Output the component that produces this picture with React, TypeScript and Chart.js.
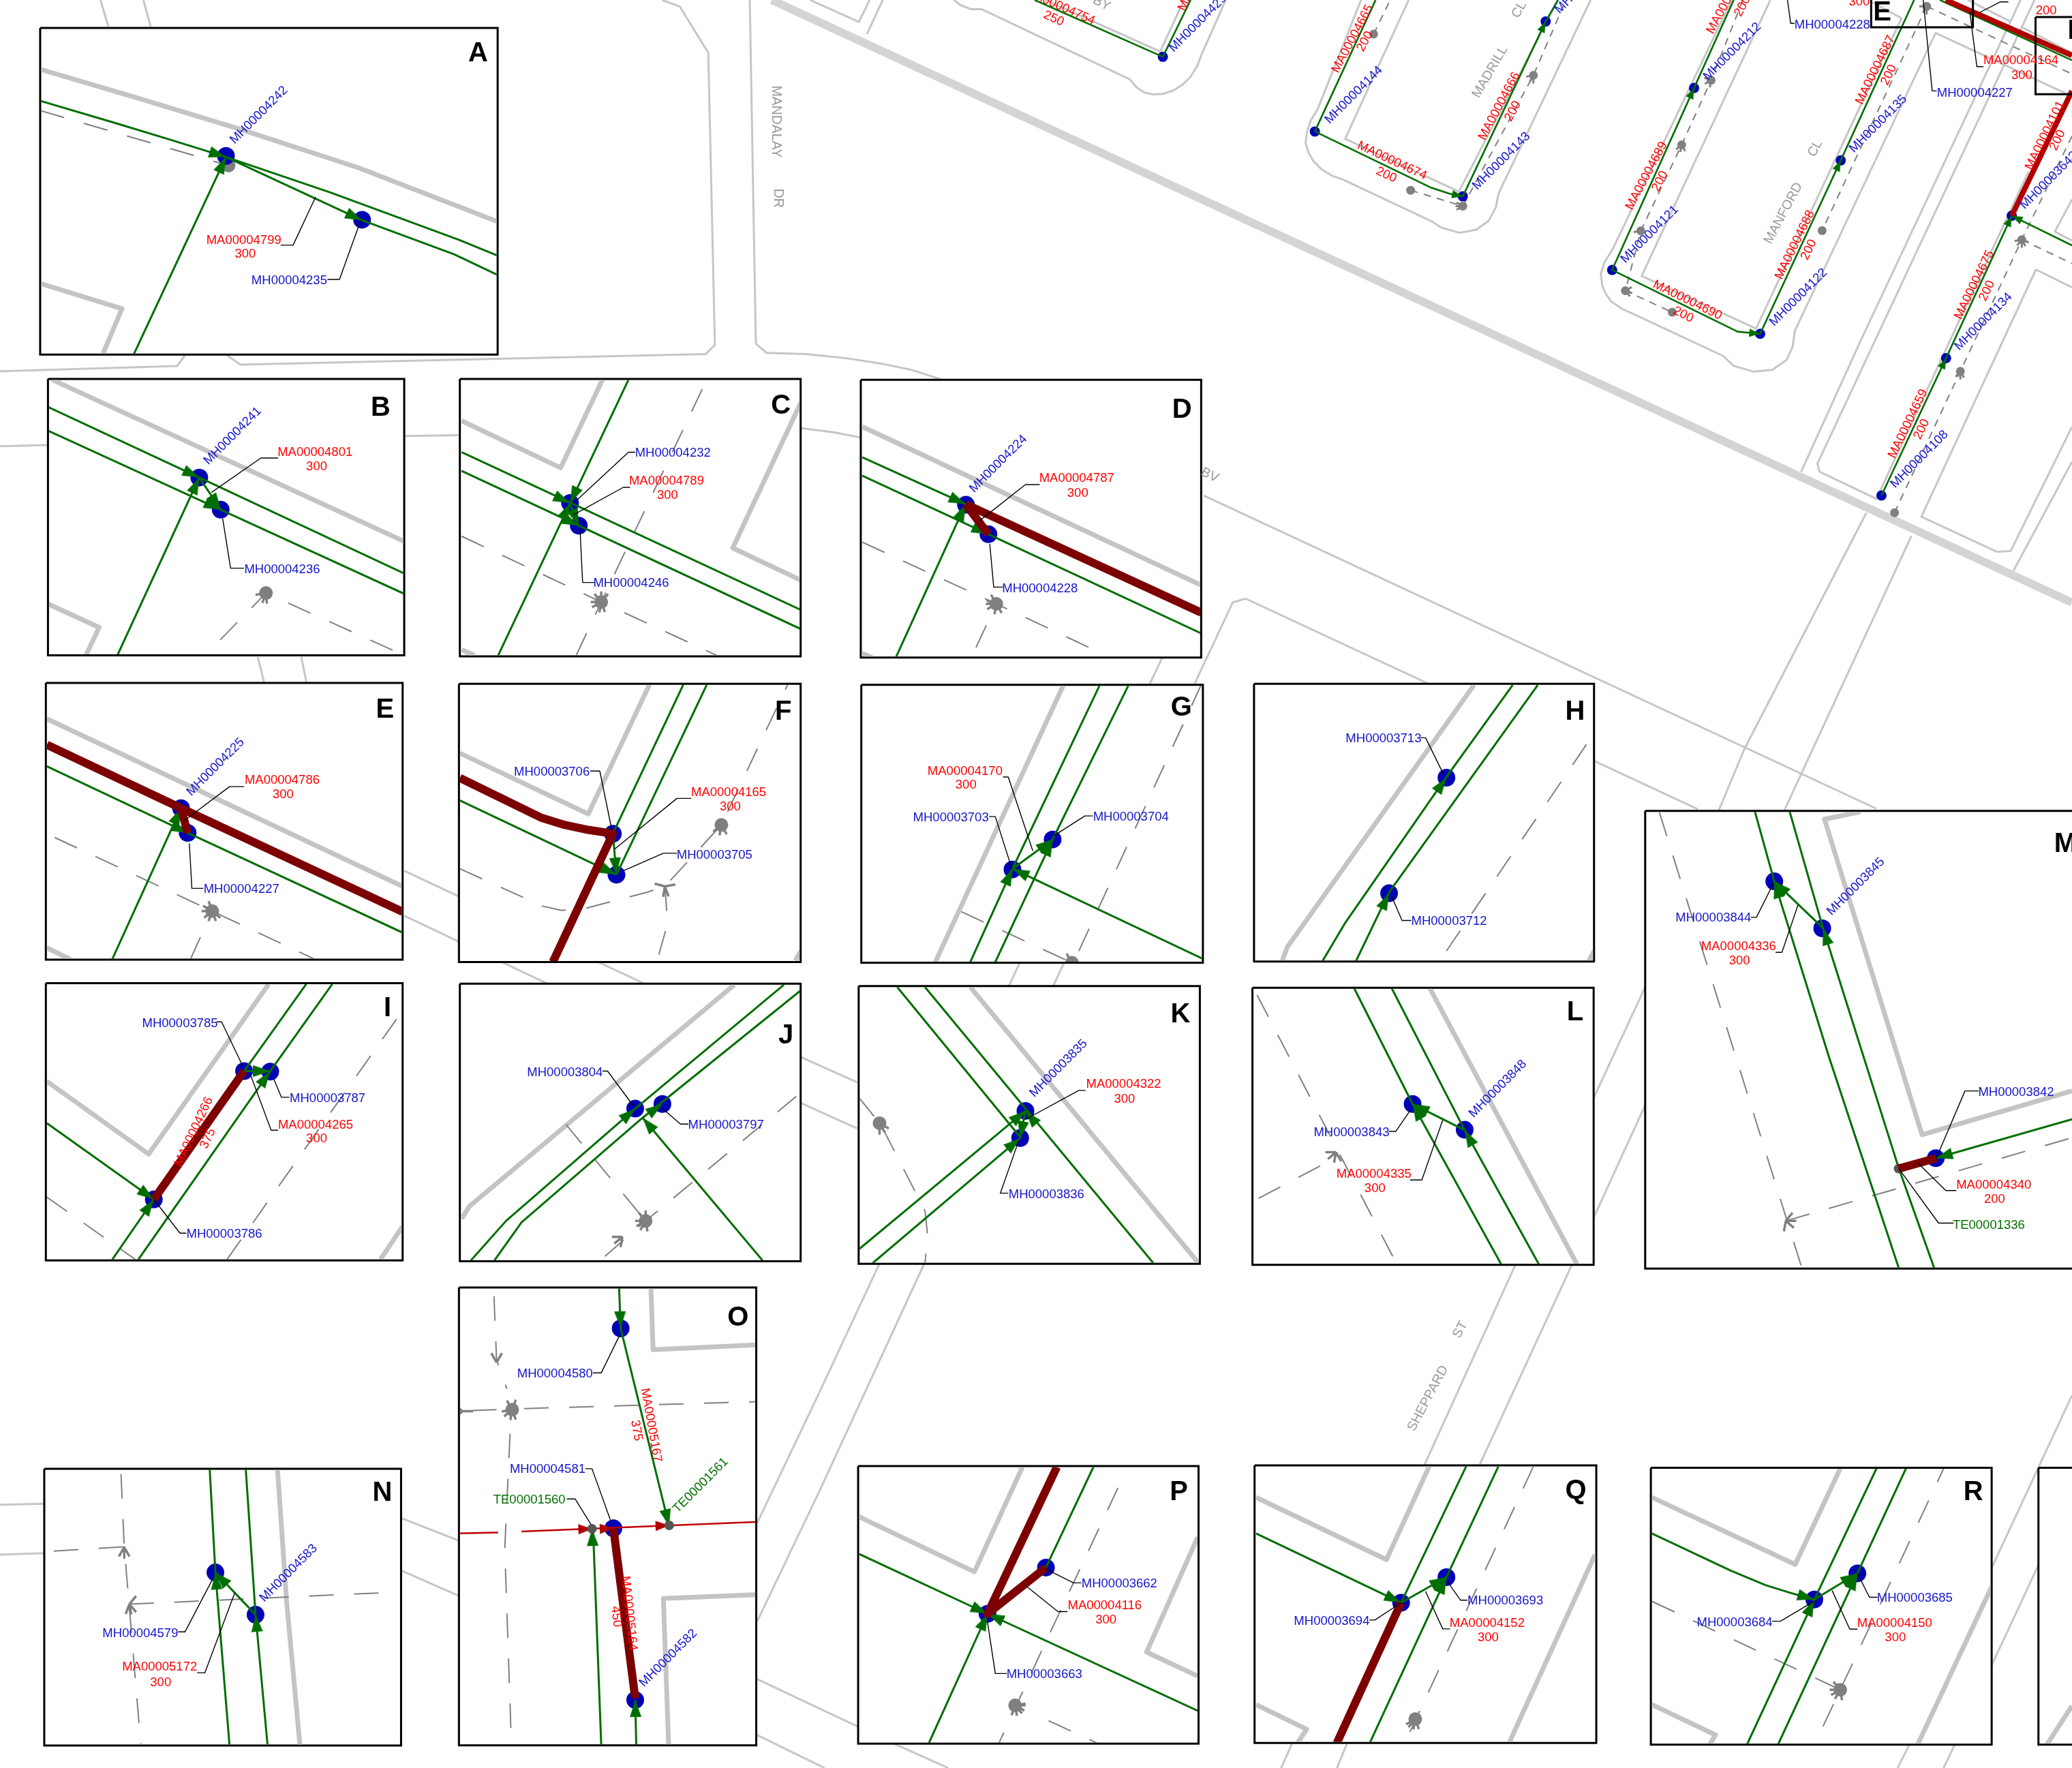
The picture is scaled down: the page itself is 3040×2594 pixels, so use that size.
import React, { useEffect, useRef } from "react";
import { Chart, registerables } from "chart.js";

Chart.register(...registerables);

const CANVAS_W = 3040;
const CANVAS_H = 2594;
const X_MAX = 1568;
const Y_MAX = 1338;

type Lines = number[][];
type Label = [string, number, number, number?];

const band: Lines = [[584, 0, 1568, 456]];

const streets: Lines = [
  [76, 0, 82, 20], [108.5, 0, 114, 20],
  [501, 0, 514.5, 5, 536, 40, 541, 261, 534, 268, 182, 276, 172, 269],
  [0, 281, 134, 277, 140, 269],
  [567.4, 0, 572, 260, 580, 267, 610, 268, 640, 271, 666, 275, 690, 280, 712, 287],
  [0, 337.7, 36, 336.8, 306, 330, 348, 329.4, 606, 324, 630, 327, 651, 331],
  [613, 0, 650, 16.6, 658, 0], [656, 25.8, 668, 0],
  [722, 0, 727, 4, 735, 7, 743, 7, 855, 60, 860, 66, 866, 70, 873, 71.5, 880, 71, 888, 68.5, 895, 64, 901, 58, 906, 50, 909, 42, 927.6, 0],
  [791, 0, 878, 39, 896, 0],
  [1030, 0, 997, 83, 992, 91, 989, 100, 988, 108, 990, 115, 994, 122, 1000, 128, 1008, 133, 1016.5, 136, 1083, 167.3, 1090.8, 172.3, 1104.7, 176.2, 1117.1, 173.8, 1126.4, 167.3, 1132, 157, 1134, 146.6, 1203.7, 0],
  [1066, 0, 1018, 105, 1104, 145, 1179, 0],
  [1310.4, 0, 1220.7, 188, 1214, 199, 1211.4, 207.3, 1212.5, 216, 1215, 222, 1219.2, 228, 1228, 234, 1240.8, 239.8, 1304.2, 269.5, 1311.9, 276.9, 1327.4, 281.3, 1341.3, 279.8, 1352.1, 272.4, 1356.7, 262, 1358.3, 250.2, 1464.8, 25, 1562.8, 70.5, 1600, 88],
  [1339.7, 0, 1242.3, 208.8, 1328.9, 248.7, 1439, 13.8, 1417, 1.7],
  [1529, 0, 1521.5, 16.3, 1408, 258, 1363, 357], [1489, 0, 1521.5, 16.3],
  [1539.6, 0, 1530, 20.6, 1375.3, 351, 1377, 357, 1420, 377.5, 1535, 130], [1530, 20.6, 1568, 40],
  [1568, 217.5, 1540.7, 204, 1454, 391, 1511, 417.5, 1521.6, 417, 1568, 323],
  [1568, 182, 1555, 175.3, 1568, 151],
  [1523.7, 432, 1568, 349.4],
  [1412.4, 388, 1320, 567, 1245, 747, 1206, 831, 1146, 959, 1077.8, 1109, 978, 1319, 969.5, 1338],
  [1446.4, 405.7, 1350, 614, 1244.5, 837.5, 1206, 921.5, 1189.3, 957.6, 1119.5, 1109, 1019.6, 1319, 1011.7, 1338],
  [911, 375, 1420, 612],
  [942.6, 453, 1285, 612.5],
  [942.6, 453, 932.8, 456, 798.6, 742.8, 698, 959.4, 619, 1130.8, 573, 1227],
  [879.5, 497.6, 619, 1056, 573, 1152.5],
  [195, 497, 200, 517], [228, 497, 232, 517],
  [306, 659, 454, 728.6, 606, 800, 648.6, 819],
  [306, 693, 412.5, 743.6, 606, 834.7, 648.6, 854],
  [0, 1138.8, 33.5, 1138], [0, 1176.6, 33.5, 1175.4],
  [304, 1149, 347, 1165.8, 573, 1270.8, 678, 1320.3, 717.7, 1338],
  [304, 1188.7, 347, 1207.6, 573, 1313, 624, 1338],
  [1568, 1056, 1444.7, 1320.8, 1436, 1338],
  [1568, 1130, 1479, 1320.8, 1470.8, 1338],
];

const mapDashes: Lines = [
  [1039.5, 25.8, 1052, 0],
  [1067.5, 144, 1107, 156, 1160.4, 57, 1185, 0],
  [1319, 0, 1294.9, 60.7, 1272.6, 109.6, 1241.7, 174.7, 1230, 220, 1265.5, 236.3],
  [1458, 4.8, 1378.9, 174.5], [1458, 4.8, 1568, 56],
  [1530, 181.4, 1568, 199.4], [1568, 103, 1530, 181.4, 1483.5, 281, 1433.7, 388],
];
const mapGrayNodes: number[][] = [
  [1039.5, 25.8], [1067.5, 144], [1107, 156, 180, 150, 210], [1160.4, 57, 170, 120, 90],
  [1294.9, 60.7, 150, 100, 200], [1272.6, 109.6, 100, 140, 60], [1241.7, 174.7, 170],
  [1230, 220, 20, 50, -30], [1265.5, 236.3], [1378.9, 174.5], [1458, 4.8, 180, 90, 120],
  [1530, 181.4, 130, 170, 60, 90, 20], [1483.5, 281, 90, 130, 60], [1433.7, 388],
];
const mapBlueNodes: number[] = [
  880, 43, 995, 99.5, 1107, 148.6, 1169.7, 16.3, 1220, 204.3, 1282, 66.6, 1332, 252.6,
  1393, 121.4, 1522.4, 163.3, 1472.7, 271, 1423.8, 375,
];
const mapGreen: Lines = [
  [783, 0, 880, 43, 901, 0], [995, 99.5, 1041, 0],
  [995, 99.5, 1083, 142, 1097, 146.6, 1107, 148.6, 1169.7, 16.3, 1179, 0],
  [1312, 0, 1282, 66.6, 1220, 204.3, 1315, 251, 1332, 252.6, 1393, 121.4, 1448.5, 0],
  [1423.8, 375, 1472.7, 271, 1522.4, 163.3, 1568, 185.7], [1468, 0, 1568, 45.6],
];
const mapRed: Lines = [[1522.4, 163.3, 1568, 68.8], [1472.4, 0, 1568, 42]];
const mapArrows: number[][] = [
  [1107, 148.6, 1097, 146.6], [1169.7, 16.3, 1107, 148.6], [1282, 66.6, 1220, 204.3],
  [1332, 252.6, 1315, 251], [1393, 121.4, 1332, 252.6], [1522.4, 163.3, 1478.6, 257.8],
  [1522.4, 163.3, 1568, 185.7], [1472.7, 271, 1423.8, 375],
];
const mapLeaders: Lines = [
  [1352.7, 0, 1355.1, 17.7, 1358, 17.7], [1455.4, 0, 1462.2, 68.8, 1465.7, 68.8],
  [1490.6, 8.6, 1496, 50.4, 1501, 50.4], [1497.5, 9.8, 1513.8, 1.4, 1519.8, 1.4],
];
const keyFrames: number[][] = [[1416, -10, 1493, 20.6], [1540.4, 12.9, 1640, 71.3]];

const panelRects: Record<string, number[]> = {
  A: [30.4, 21.2, 376.6, 268.4], B: [36.3, 286.8, 305.9, 496], C: [348, 286.8, 605.9, 496.7],
  D: [651.4, 287.4, 909, 497.6], E: [34.7, 516.9, 304.7, 726.2], F: [347.3, 517.5, 605.9, 728],
  G: [651.8, 518.3, 910.3, 728.6], H: [949, 517.5, 1206.3, 727.7], I: [34.7, 744, 304.7, 953.8],
  J: [348, 744.4, 605.9, 954.5], K: [649.8, 746.2, 908, 956.4], L: [947.8, 747.5, 1206, 957.2],
  M: [1245, 613.7, 1640, 960], N: [33.5, 1111.5, 303.5, 1321], O: [347.3, 974.4, 572.3, 1320.8],
  P: [649.4, 1109.5, 907, 1319.6], Q: [949.4, 1109, 1208, 1319], R: [1249.3, 1110.8, 1507.2, 1320.3],
  S: [1542.6, 1110.8, 1700, 1320.3],
};

const insetCurbs: Record<string, Lines> = {
  A: [[30.8, 52.5, 108.5, 75.5, 181, 97.6, 271.4, 127, 376.3, 167.6], [30.8, 214.6, 92.3, 233.6, 77.8, 268]],
  B: [[39.5, 287.4, 305.9, 409.7], [36.3, 457, 75, 474.8, 65, 496]],
  C: [[349.3, 318.5, 424.3, 354, 455.9, 287.4], [605.9, 305, 554.5, 414.7, 605.9, 439], [349.3, 491.7, 359.2, 496]],
  D: [[652.5, 322.9, 909, 442.8], [651.4, 494, 660, 497.6]],
  E: [[35.5, 544, 304.7, 670.8], [35.5, 717.3, 53.3, 726]],
  F: [[348, 570, 445.2, 616, 491.4, 518.3], [605.9, 719.7, 602, 727]],
  G: [[707.8, 728, 804.5, 519]],
  H: [[970.3, 727, 974.2, 716.7, 1115.5, 518.4], [1202.4, 727, 1206.3, 719.7]],
  I: [[35.5, 818.4, 112.5, 873.4, 203.3, 744.8], [288, 953, 304.7, 928]],
  J: [[349.3, 922.3, 355.2, 912.9, 555.7, 745.3]],
  K: [[734.3, 747, 907, 955.9]],
  L: [[1082, 747.9, 1193.3, 956.7]],
  M: [[1407.8, 614.4, 1380.7, 620, 1454.5, 858.8, 1568, 825.6]],
  N: [[210, 1112, 217, 1213, 227, 1321]],
  O: [[492.6, 975, 494.2, 1021.4, 572.3, 1017.8], [572.3, 1206.8, 502, 1209.7, 506, 1320.8]],
  P: [[649.8, 1147.7, 737.4, 1189.5, 773.7, 1110.3], [906.3, 1163.4, 867.7, 1250.3, 906.3, 1268.4]],
  Q: [[950.5, 1133.2, 1049.2, 1180.3, 1081.6, 1109.6], [950.5, 1290, 988.8, 1308.7, 982, 1319], [1142, 1319, 1207, 1176.7]],
  R: [[1250, 1133.2, 1358.5, 1183.9, 1392.6, 1111.5], [1250, 1290, 1298.2, 1313, 1293.8, 1320.3], [1451.2, 1320.3, 1507.2, 1200.8]],
  S: [[1549, 1320.3, 1568, 1291]],
};

const insetDashes: Record<string, Lines> = {
  A: [[30.8, 83.8, 166.4, 123.4]],
  B: [[166.6, 484.3, 201.3, 448.8, 305.9, 496]],
  C: [[349.3, 405.8, 455, 455.6, 542.7, 496.1], [436, 496, 455, 455.6, 534.8, 287.4]],
  D: [[652.5, 410.3, 754, 457, 834, 494.6], [738.6, 490, 754, 457]],
  E: [[41.4, 633.8, 160.6, 689.5, 238.8, 726.2], [144, 726.2, 160.6, 689.5]],
  F: [[348, 657.5, 410.5, 685.7, 425, 689, 442, 687.7, 489.4, 675.3, 503.2, 670.8, 545.9, 624.3, 596, 518.3], [503.2, 670.8, 505.2, 699, 497.3, 727]],
  G: [[727.5, 690, 811.2, 728.6], [816.4, 719.7, 909, 518.3]],
  H: [[1094.6, 719.7, 1204, 558.3]],
  I: [[35.5, 906, 102.6, 953.3], [171.7, 953.3, 302, 768.5]],
  J: [[428.3, 851, 488.6, 924], [457.8, 950.7, 488.6, 924, 605.9, 827]],
  K: [[649.8, 830.4, 665.6, 850], [668.3, 854.5, 700, 916.3, 702, 935.2, 700, 955.9]],
  L: [[951.3, 753, 1057, 956.7], [952.5, 906.9, 1011, 876]],
  M: [[1255.8, 614.9, 1363.7, 960], [1351.4, 924, 1568, 861]],
  N: [[91.6, 1115.6, 94, 1170.6, 100.6, 1249, 106.6, 1321], [40.7, 1173.8, 94, 1170.6], [97.9, 1214, 298, 1205]],
  O: [[373.8, 981, 375.8, 1029.4, 383.6, 1051], [357.2, 1067.5, 377, 1066.8], [396.7, 1066, 572.3, 1060.8], [386, 1085, 382, 1172, 386.8, 1314]],
  P: [[846, 1126, 786.7, 1252.7, 756, 1319], [793.5, 1302.2, 830, 1319]],
  Q: [[1160.5, 1109.6, 1067, 1310.6]],
  R: [[1250.4, 1212, 1392.6, 1278.8], [1379.6, 1306.5, 1392.6, 1278.8, 1470.8, 1111.5]],
};

// x, y, then the compass angles of the short spurs
const insetGrayNodes: Record<string, number[][]> = {
  A: [[173, 125.3]],
  B: [[201.3, 448.8, 170, 110, 85]],
  C: [[455, 455.6, -90, -50, -130, 180, 150, 100, 70]],
  D: [[754, 457, -120, 180, 150, 100, 60, 200]],
  E: [[160.6, 689.5, -110, -150, 180, 140, 110, 70, 40]],
  F: [[545.9, 624.3, 100, 140, 60]],
  G: [[811.2, 728.6, -120]],
  J: [[488.6, 924, -90, -130, 180, 150, 120, 80]],
  K: [[665.6, 850, 30, 90, 60]],
  O: [[387.6, 1066.8, -70, -120, 170, 140, 100, 70]],
  P: [[768.2, 1290.6, 30, 0, 50, 80, 110, -10]],
  Q: [[1071, 1301, 100, 130, 150, 70]],
  R: [[1392.6, 1278.8, -130, 180, 150, 120, 80]],
};
const insetSpurs: Record<string, number[][]> = {
  F: [[503.2, 670.8, -165, -10, 100, 70]],
  J: [[471, 936, 100, 180, 140]],
  L: [[1011, 872, 100, 180, 60, 140]],
  M: [[1351.4, 924, -50, 0, 40, 100]],
  N: [[94, 1171, 120, 90, 60], [97.9, 1214, -50, 50, 110, 80]],
  O: [[375.8, 1031, -120, -60], [350, 1068, -140, 140, 0]],
};
const insetBlue: Record<string, number[]> = {
  A: [171, 118, 274, 166.3], B: [150.8, 361.4, 167, 385.7], C: [431.4, 380.7, 438, 397.8],
  D: [731, 382, 748, 404.3], E: [137, 611.6, 142, 630.3], F: [463.8, 631, 466.5, 662],
  G: [766.2, 658, 796.6, 635.3], H: [1094.6, 588.5, 1051.2, 676],
  I: [184.7, 810.6, 204.5, 811, 116.4, 907.7], J: [480.7, 839, 501.3, 835.5],
  K: [776, 840.7, 772, 861.3], L: [1069, 835.5, 1108.4, 855],
  M: [1342.7, 667, 1379, 702.5, 1464.9, 876.5], N: [163, 1190, 193.4, 1222],
  O: [469.7, 1005.3, 464.2, 1156.6, 480.7, 1286.5], P: [747.3, 1221.3, 791.5, 1186.3],
  Q: [1060.3, 1212.9, 1094.6, 1193.6], R: [1373, 1210.5, 1405.6, 1190.7],
};
const insetGreen: Record<string, Lines> = {
  A: [[30.8, 76.4, 86.8, 93, 126.6, 105, 171, 118.8, 249.6, 145.5, 347, 181.4, 376.3, 193.4], [171, 118.8, 274, 166.7, 343.7, 192.5, 376.3, 208], [101.3, 268, 171, 118.8]],
  B: [[36.3, 308, 150.8, 361.4, 305.9, 434], [36.3, 325.9, 167, 385.7, 305.9, 449.4], [88.8, 496, 150.8, 361.4], [150.8, 361.4, 167, 385.7]],
  C: [[349.3, 342.2, 605.9, 461.5], [349.3, 356.4, 605.9, 476], [377, 496, 475.6, 287.4], [431, 380.6, 438, 397.8]],
  D: [[652.5, 346, 730.7, 381.5], [652.5, 360, 748, 404.3, 909, 479.3], [678.2, 497, 730.7, 381.5]],
  E: [[35.5, 580, 142, 630.3, 304.7, 705.8], [84.9, 726, 137, 611.6]],
  F: [[348, 605.7, 466.5, 662], [463.8, 630.9, 517, 518.3], [466.5, 662, 534.8, 518.3], [463.8, 630.9, 466.5, 662]],
  G: [[734.3, 728, 766.2, 657.5, 832, 519], [753.2, 728, 796.6, 635.3, 853.8, 519], [766.2, 657.5, 796.6, 635.3], [766.2, 657.5, 910.3, 725.6]],
  H: [[1001, 727, 1017.6, 699, 1094.6, 588, 1144.7, 518.4], [1026.3, 727, 1051.2, 675.3, 1163.7, 518.4]],
  I: [[35.5, 850, 116.4, 907.7], [84.9, 953.3, 116.4, 907.7], [184.7, 810.6, 231.7, 744.8], [104.6, 953.3, 204.5, 810.6, 251.4, 744.8], [184.7, 810.6, 204.5, 810.6]],
  J: [[356.4, 953.8, 382.9, 924, 480.7, 839, 593.2, 745.3], [374.2, 953.8, 394.7, 925, 486.3, 845.9, 605.9, 749.6], [486.3, 845.9, 577, 953.8]],
  K: [[679, 747, 772, 860.5], [700, 747, 872.8, 955.9], [649.8, 945.6, 776, 840.7], [660.4, 955.9, 772, 861.3], [776, 840.7, 772, 861.3]],
  L: [[1024.8, 747.9, 1069, 835.5, 1136, 956.7], [1053.2, 747.9, 1108.4, 855.3, 1164.5, 956.7], [1069, 835.5, 1108.4, 855.3]],
  M: [[1327.9, 613.7, 1342.7, 667, 1384, 799.6, 1437, 959.9], [1354.2, 613.7, 1379.6, 702.5, 1437, 884.4, 1463.8, 959.9], [1342.7, 667, 1379.6, 702.5], [1464.9, 876.5, 1568, 847]],
  N: [[158.7, 1112, 163, 1190, 173.7, 1321], [186, 1112, 193.4, 1222, 202.5, 1321], [163, 1190, 193.4, 1222]],
  O: [[468.5, 974.4, 469.7, 1005.3, 506.4, 1155], [448.8, 1157.4, 455, 1320.8], [480.7, 1286.5, 481.5, 1320.8]],
  P: [[649.8, 1175.9, 747.3, 1221.3, 907, 1295], [703, 1319, 747.3, 1221.3], [791.5, 1186.3, 827.4, 1110.3]],
  Q: [[950.5, 1160.5, 1060.3, 1212.9, 1109.6, 1109.6], [1036.6, 1319, 1094.6, 1193.6, 1134, 1109.6], [1060.3, 1212.9, 1094.6, 1193.6]],
  R: [[1250, 1160.5, 1310, 1188.7, 1336, 1199.6, 1355, 1205.5, 1373, 1210.5], [1322, 1320.3, 1373, 1210.5, 1420.2, 1111], [1345.5, 1320.3, 1405.6, 1190.7, 1442.5, 1111], [1373, 1210.5, 1405.6, 1190.7]],
};
const insetArrows: Record<string, number[][]> = {
  A: [[171, 118.8, 126.6, 105], [171, 118.8, 101.3, 268], [274, 166.7, 171, 118.8]],
  B: [[150.8, 361.4, 36.3, 308], [150.8, 361.4, 88.8, 496], [167, 385.7, 150.8, 361.4], [167, 385.7, 36.3, 325.9]],
  C: [[431.4, 380.7, 349.3, 342.2], [431.4, 380.7, 475.6, 287.4], [431.4, 380.7, 377, 496], [438, 397.8, 431, 380.6], [438, 397.8, 349.3, 356.4]],
  D: [[730.7, 381.5, 652.5, 346], [730.7, 381.5, 678.2, 497], [748, 404.3, 652.5, 360]],
  E: [[137, 611.6, 84.9, 726], [142, 630.3, 35.5, 580]],
  F: [[466.5, 662, 348, 605.7], [466.5, 662, 463.8, 630.9]],
  G: [[766.2, 657.5, 734.3, 728], [766.2, 657.5, 910.3, 725.6], [796.6, 635.3, 766.2, 657.5], [796.6, 635.3, 753.2, 728]],
  H: [[1094.6, 588.5, 1017.6, 699], [1051.2, 676, 1026.3, 727]],
  I: [[116.4, 907.7, 35.5, 850], [116.4, 907.7, 84.9, 953.3], [204.5, 810.6, 184.7, 810.6], [204.5, 810.6, 104.6, 953.3]],
  J: [[480.7, 839, 382.9, 924], [486.3, 845.9, 577, 953.8], [501.3, 835.5, 486.3, 845.9]],
  K: [[776, 840.7, 649.8, 945.6], [776, 840.7, 872.8, 955.9], [772, 861.3, 660.4, 955.9], [772, 861.3, 776, 840.7]],
  L: [[1069, 835.5, 1108.4, 855.3], [1069, 835.5, 1136, 956.7], [1108.4, 855.3, 1164.5, 956.7]],
  M: [[1342.7, 667, 1384, 799.6], [1342.7, 667, 1379.6, 702.5], [1379.6, 702.5, 1437, 884.4], [1464.9, 876.5, 1568, 847]],
  N: [[163, 1190, 173.7, 1321], [163, 1190, 193.4, 1222], [193.4, 1222, 202.5, 1321]],
  O: [[469.7, 1005.3, 468.5, 974.4], [506.4, 1155, 469.7, 1005.3], [448, 1157, 455, 1320.8], [480.7, 1286.5, 481.5, 1320.8]],
  P: [[747.3, 1221.3, 649.8, 1175.9], [747.3, 1221.3, 907, 1295], [747.3, 1221.3, 703, 1319]],
  Q: [[1060.3, 1212.9, 950.5, 1160.5], [1094.6, 1193.6, 1060.3, 1212.9], [1094.6, 1193.6, 1036.6, 1319]],
  R: [[1373, 1210.5, 1336, 1199.6], [1373, 1210.5, 1322, 1320.3], [1405.6, 1190.7, 1373, 1210.5], [1405.6, 1190.7, 1345.5, 1320.3]],
};
const insetMaroon: Record<string, Lines> = {
  D: [[730.7, 381.5, 909, 463.6], [730.7, 381.5, 748, 404.3]],
  E: [[35.5, 563.6, 137, 611.6, 304.7, 690], [137, 611.6, 142, 630.3]],
  F: [[348, 588.8, 394.7, 611.6, 410, 619, 426.3, 624, 445, 628, 463.8, 630.9, 418.4, 728]],
  I: [[184.7, 810.6, 116.4, 907.7]],
  M: [[1436.7, 884.4, 1465.3, 876.5]],
  O: [[464.2, 1156.6, 480.7, 1285.3]],
  P: [[799.8, 1110.3, 747.3, 1221.3, 791.5, 1186.3]],
  Q: [[1011.7, 1319, 1060.3, 1212.9]],
};
const insetLeaders: Record<string, Lines> = {
  A: [[238.8, 149.2, 221.8, 185.5, 212.4, 185.5], [273, 166.7, 256.9, 211.5, 247.8, 211.5]],
  B: [[159.9, 372.7, 197.4, 346.6, 210.4, 346.6], [168.5, 392.5, 174.5, 430, 184.7, 430]],
  C: [[434.2, 380.7, 475.6, 342.2, 480.7, 342.2], [434.2, 389.5, 471.7, 368.8, 476.8, 368.8], [438.9, 399.9, 440.9, 440.8, 450, 440.8]],
  D: [[741.4, 394, 776, 366.7, 786.7, 366.7], [749, 411.7, 752, 444.3, 759, 444.3]],
  E: [[139, 621.4, 173.7, 595.3, 184.7, 595.3], [143.3, 638.3, 145.2, 672.3, 153.9, 672.3]],
  F: [[463, 628, 453.9, 583.5, 446.8, 583.5], [465, 642.7, 512.3, 604.2, 523, 604.2], [471.7, 659, 502, 645.7, 512.3, 645.7]],
  G: [[765.8, 657.5, 753.2, 618, 748.5, 618], [781.6, 644, 763, 588, 759, 588], [797.8, 632.3, 821, 617.5, 827, 617.5]],
  H: [[1092.6, 586.4, 1078.8, 558.3, 1074.9, 558.3], [1053, 678, 1061, 696.6, 1068, 696.6]],
  I: [[183.5, 806.3, 167.7, 773.3, 163.8, 773.3], [207.2, 816.6, 213, 830.4, 219, 830.4], [189.5, 813.2, 205.2, 855.3, 210.4, 855.3], [116.4, 907.7, 136.2, 933.2, 141, 933.2]],
  J: [[479.6, 837.3, 459.8, 810.6, 455.9, 810.6], [501.3, 839, 515, 850.7, 521, 850.7]],
  K: [[776.9, 846.7, 816.4, 825.2, 821.5, 825.2], [771, 863, 757, 903, 763, 903]],
  L: [[1067, 840.7, 1056.3, 856.2, 1051, 856.2], [1091.8, 847.6, 1076, 893, 1067, 893]],
  M: [[1342.2, 668.2, 1329.2, 694.2, 1324.9, 694.2], [1360.7, 684.7, 1348.5, 720.7, 1343.7, 720.7], [1465.3, 876.5, 1487, 825.6, 1497.5, 825.6], [1451.2, 880, 1472.5, 901, 1480.5, 901], [1437, 884.4, 1467, 925.6, 1478.4, 925.6]],
  N: [[161, 1194.8, 140, 1235, 135, 1235], [177.6, 1205.6, 155, 1266, 149.2, 1266]],
  O: [[468.5, 1011.3, 455, 1039, 448.8, 1039], [461.8, 1150, 448, 1111.5, 442.9, 1111.5], [447.2, 1153.7, 435.3, 1134.4, 429, 1134.4]],
  P: [[747.3, 1227.4, 753.2, 1266.5, 761.9, 1266.5], [791.5, 1187.5, 812.4, 1197.9, 818.3, 1197.9], [775.7, 1199.6, 800.6, 1219.6, 807.7, 1219.6]],
  Q: [[1060.3, 1212.9, 1040.5, 1226, 1036.2, 1226], [1095.4, 1197, 1105.3, 1211, 1110.4, 1211], [1078.8, 1204.4, 1091.8, 1232.7, 1097.4, 1232.7]],
  R: [[1373, 1211.7, 1347.4, 1226.9, 1341, 1226.9], [1405.6, 1190.7, 1414.7, 1208.8, 1420.8, 1208.8], [1386.5, 1203.7, 1399.8, 1232.9, 1405.6, 1232.9]],
};
const tracerLine: Lines = [[347.3, 1160.5, 377, 1159.8], [394.7, 1159, 572.3, 1151.8]];
const tracerArrows: number[][] = [[448, 1157, 420, 1158], [464.2, 1156.6, 440, 1157.6], [506.4, 1154.4, 480, 1155.5]];
const teeNodes: number[] = [448, 1156.9, 506.4, 1154.4];
const teeNodeM: number[] = [1436.7, 884.4];

const panelLetters: Label[] = [
  ["A", 361.8, 39], ["B", 288, 307.5], ["C", 590.9, 306], ["D", 894.5, 308.7], ["E", 291.3, 536],
  ["F", 592.8, 537.6], ["G", 894, 534.6], ["H", 1192, 537.6], ["I", 293.3, 761.6], ["J", 594.8, 782.3],
  ["K", 893.3, 766.4], ["L", 1192, 765], ["M", 1563, 637.4], ["N", 289.3, 1128.4], ["O", 558.5, 996],
  ["P", 892.1, 1127.9], ["Q", 1192.5, 1127.2], ["R", 1493.3, 1127.9], ["E", 1424.4, 8], ["F", 1571, 22],
];
const streetLabels: Label[] = [
  ["MANDALAY", 588, 92, 90], ["DR", 589.4, 150, 90], ["BY", 834, 2, 27], ["BV", 915.8, 359, 27],
  ["MADRILL", 1127, 54, -60], ["CL", 1149, 7, -60], ["MANFORD", 1349, 161, -62], ["CL", 1373, 112, -62],
  ["SHEPPARD", 1080, 1058, -62], ["ST", 1104.5, 1006, -62],
];
const blueLabels: Label[] = [
  ["MH00004242", 195.4, 86.6, -45], ["MH00004235", 218.9, 211.8],
  ["MH00004241", 175.6, 329.4, -45], ["MH00004236", 213.5, 430.4],
  ["MH00004232", 509.2, 342.2], ["MH00004246", 477.6, 440.8],
  ["MH00004224", 755, 350.5, -45], ["MH00004228", 787, 444.9],
  ["MH00004225", 162.6, 580, -45], ["MH00004227", 182.7, 672.3],
  ["MH00003706", 417.6, 583.8], ["MH00003705", 540.7, 646.3],
  ["MH00003703", 719.6, 618.4], ["MH00003704", 855.8, 617.5],
  ["MH00003713", 1047, 558.3], ["MH00003712", 1096.6, 696.6],
  ["MH00003785", 136.2, 773.7], ["MH00003787", 247.9, 830.7], ["MH00003786", 169.7, 933.5],
  ["MH00003804", 427.5, 811.1], ["MH00003797", 549.4, 851],
  ["MH00003835", 800.6, 808, -45], ["MH00003836", 791.9, 903.4],
  ["MH00003848", 1133, 823.5, -45], ["MH00003843", 1022.8, 856.5],
  ["MH00003844", 1296.6, 694.2], ["MH00003845", 1403.9, 670.5, -45], ["MH00003842", 1525.7, 825.9],
  ["MH00004583", 217.9, 1190, -45], ["MH00004579", 106.2, 1235.8],
  ["MH00004580", 420, 1039.3], ["MH00004581", 414.4, 1111.5], ["MH00004582", 505.2, 1254.4, -45],
  ["MH00003662", 847.1, 1197.9], ["MH00003663", 790.3, 1266.5],
  ["MH00003694", 1007.8, 1226.2], ["MH00003693", 1139.2, 1211],
  ["MH00003684", 1312.7, 1227.4], ["MH00003685", 1449, 1208.8],
  ["MH00004429", 906, 17, -45], ["MH00004144", 1024, 71.4, -45], ["MH00004143", 1135.7, 121.4, -45],
  ["MH00004145", 1198, -12, -45], ["MH00004121", 1247.9, 176.8, -45], ["MH00004212", 1310.4, 38.5, -45],
  ["MH00004122", 1360.5, 224.5, -45], ["MH00004135", 1420.8, 93.3, -45], ["MH00004134", 1500.5, 242.8, -45],
  ["MH00004108", 1452, 347, -45], ["MH00003642", 1550, 136, -45],
  ["MH00004228", 1386.6, 18.4], ["MH00004227", 1494.4, 69.6],
];
const redLabels: Label[] = [
  ["MA00004799", 184.5, 181], ["300", 185.6, 191.8],
  ["MA00004801", 238.4, 341.9], ["300", 239.6, 352.5],
  ["MA00004789", 504.4, 363.5], ["300", 505.2, 374.1],
  ["MA00004787", 814.8, 361.4], ["300", 815.6, 372.7],
  ["MA00004786", 213.5, 590], ["300", 214.3, 600.7],
  ["MA00004165", 551.4, 599.2], ["300", 552.6, 610],
  ["MA00004170", 730.3, 582.9], ["300", 731, 593.5],
  ["MA00004265", 238.8, 850.7], ["300", 239.6, 861.3],
  ["MA00004266", 146, 856.2, -65], ["375", 156.7, 861.3, -65],
  ["MA00004322", 850.3, 820], ["300", 851, 831.2],
  ["MA00004335", 1039.7, 888], ["300", 1040.5, 898.8],
  ["MA00004336", 1315.7, 715.5], ["300", 1316.4, 726.4],
  ["MA00004340", 1508.8, 896], ["200", 1509.4, 906.9],
  ["MA00005172", 120.8, 1261], ["300", 121.6, 1272.5],
  ["MA00005167", 493.4, 1078.4, 80], ["375", 482.3, 1082.5, 80],
  ["MA00005164", 476.8, 1220.8, 84], ["450", 467, 1223.3, 84],
  ["MA00004116", 836, 1214.6], ["300", 836.9, 1225.4],
  ["MA00004152", 1125.4, 1227.8], ["300", 1126.2, 1238.7],
  ["MA00004150", 1433.8, 1227.8], ["300", 1434.3, 1238.7],
  ["MA00004754", 802.5, 4.2, 24], ["250", 797.7, 13.4, 24], ["MA00004755", 905, -18.6, -66],
  ["MA00004665", 1023, 29, -62], ["200", 1032.3, 31, -62],
  ["MA00004674", 1053.7, 121, 25], ["200", 1049.4, 131.7, 25],
  ["MA00004666", 1134, 80, -62], ["200", 1144.3, 83.8, -62],
  ["MA00004689", 1245.4, 132.7, -62], ["200", 1255.6, 136.8, -62],
  ["MA00004690", 1277.3, 226.5, 26], ["200", 1274.2, 237.5, 26],
  ["MA00004691", 1306.6, -0.5, -62], ["200", 1318, 4.4, -62],
  ["MA00004688", 1357.7, 185, -64], ["200", 1368.2, 188.6, -64],
  ["MA00004687", 1418.6, 52.7, -64], ["200", 1428.8, 56.3, -64],
  ["MA00004675", 1493.4, 215.3, -64], ["200", 1503, 219.7, -64],
  ["MA00004659", 1443.3, 320.4, -64], ["200", 1453.5, 324.5, -64],
  ["MA00004101", 1546.9, 102.2, -64], ["200", 1556.4, 105.7, -64],
  ["MA00004164", 1529.3, 45.2], ["300", 1530, 56.2], ["200", 1548.5, 7.2], ["300", 1407, 0.9],
];
const greenLabels: Label[] = [
  ["TE00001336", 1505, 926.5], ["TE00001560", 400.6, 1134.4], ["TE00001561", 529.7, 1123.6, -45],
];

const COLORS = {
  street: "#c6c6c6", band: "#d4d4d4", curb: "#c4c4c4", dash: "#808080", node: "#808080",
  blue: "#0000b4", green: "#006e00", maroon: "#7d0000", red: "#b00000", leader: "#000000",
  tracer: "#c00000", labelBlue: "#1414cc", labelRed: "#ff0000", labelGreen: "#007000", labelStreet: "#9a9a9a",
};

const pts = (lines: Lines) => {
  const out: { x: number; y: number }[] = [];
  lines.forEach((l, k) => {
    if (k) out.push({ x: NaN, y: NaN });
    for (let i = 0; i < l.length; i += 2) out.push({ x: l[i], y: l[i + 1] });
  });
  return out;
};
const flatPts = (a: number[]) => pts([a]);
const spurs = (nodes: number[][], size: number): Lines => {
  const out: Lines = [];
  nodes.forEach(([x, y, ...angles]) =>
    angles.forEach((a) =>
      out.push([x, y, x + size * Math.cos((a * Math.PI) / 180), y + size * Math.sin((a * Math.PI) / 180)])
    )
  );
  return out;
};

const makeArrow = (color: string, len: number, wid: number) => {
  const c = document.createElement("canvas");
  c.width = Math.ceil(wid);
  c.height = Math.ceil(len * 2);
  const g = c.getContext("2d")!;
  g.fillStyle = color;
  g.beginPath();
  g.moveTo(wid / 2, len);
  g.lineTo(wid, len * 2);
  g.lineTo(0, len * 2);
  g.closePath();
  g.fill();
  return c;
};

const buildDatasets = () => {
  const ds: any[] = [];
  const line = (lines: Lines, color: string, width: number, extra: any = {}) => {
    if (lines && lines.length)
      ds.push({
        type: "scatter", showLine: true, data: pts(lines), borderColor: color, borderWidth: width,
        pointRadius: 0, tension: 0, fill: false, borderJoinStyle: "round", borderCapStyle: "butt", ...extra,
      });
  };
  const dots = (xy: number[], color: string, radius: number, extra: any = {}) => {
    if (xy && xy.length)
      ds.push({
        type: "scatter", showLine: false, data: flatPts(xy), pointRadius: radius, pointBorderWidth: 0,
        pointBackgroundColor: color, pointBorderColor: color, ...extra,
      });
  };
  const arrows = (list: number[][], img: HTMLCanvasElement, extra: any = {}) => {
    if (list && list.length)
      ds.push({
        type: "scatter", showLine: false, data: list.map((a) => ({ x: a[0], y: a[1] })), pointRadius: 5,
        pointStyle: img,
        pointRotation: list.map((a) => (Math.atan2(a[0] - a[2], -(a[1] - a[3])) * 180) / Math.PI),
        ...extra,
      });
  };

  const arrowMain = makeArrow(COLORS.green, 16, 12);
  const arrowInset = makeArrow(COLORS.green, 25, 17);
  const arrowTracer = makeArrow(COLORS.red, 20, 15);

  line(streets, COLORS.street, 3);
  line(band, COLORS.band, 12);
  line(mapDashes, COLORS.dash, 2, { borderDash: [11, 9] });
  line(spurs(mapGrayNodes, 5.5), COLORS.node, 3);
  dots(mapGrayNodes.flatMap((n) => [n[0], n[1]]), COLORS.node, 6.5);
  dots(mapBlueNodes, COLORS.blue, 7.5);
  line(mapGreen, COLORS.green, 2.6);
  arrows(mapArrows, arrowMain);
  line(mapRed, COLORS.red, 8);
  line(mapLeaders, COLORS.leader, 1.4);
  keyFrames.forEach(([a, b, c, d]) => line([[a, b, c, b, c, d, a, d, a, b]], "#000000", 3, { borderJoinStyle: "miter" }));

  Object.keys(panelRects).forEach((k) => {
    const [a, b, c, d] = panelRects[k];
    line([[a, b, c, b, c, d, a, d, a, b]], "#000000", 3, {
      fill: "shape", backgroundColor: "#ffffff", borderJoinStyle: "miter",
    });
    const panel = { panelClip: panelRects[k] };
    line(insetCurbs[k], COLORS.curb, 7, panel);
    line(insetDashes[k], COLORS.dash, 2, { borderDash: [36, 30], ...panel });
    if (insetGrayNodes[k]) {
      line(spurs(insetGrayNodes[k], 8), COLORS.node, 3.5, panel);
      dots(insetGrayNodes[k].flatMap((n) => [n[0], n[1]]), COLORS.node, 10, panel);
    }
    if (insetSpurs[k]) line(spurs(insetSpurs[k], 8), COLORS.node, 3.5, panel);
    dots(insetBlue[k], COLORS.blue, 13, panel);
    line(insetGreen[k], COLORS.green, 3, panel);
    if (k === "O") {
      line(tracerLine, COLORS.tracer, 2.5, panel);
      arrows(tracerArrows, arrowTracer, panel);
    }
    arrows(insetArrows[k], arrowInset, panel);
    if (k === "O") dots(teeNodes, "#555555", 7, panel);
    if (k === "M") dots(teeNodeM, "#555555", 7, panel);
    line(insetMaroon[k], COLORS.maroon, 12, panel);
    line(insetLeaders[k], COLORS.leader, 1.4, panel);
  });

  // painter's order: Chart.js paints the highest `order` first
  ds.forEach((d, i) => (d.order = ds.length - i));
  return ds;
};

const panelClipPlugin = {
  id: "panelClip",
  beforeDatasetDraw(chart: any, args: any) {
    const r = chart.data.datasets[args.index].panelClip;
    if (!r) return;
    const { x, y } = chart.scales;
    const ctx = chart.ctx;
    ctx.save();
    ctx.beginPath();
    const l = x.getPixelForValue(r[0]) + 1.5;
    const t = y.getPixelForValue(r[1]) + 1.5;
    ctx.rect(l, t, x.getPixelForValue(r[2]) - 1.5 - l, y.getPixelForValue(r[3]) - 1.5 - t);
    ctx.clip();
  },
  afterDatasetDraw(chart: any, args: any) {
    if (chart.data.datasets[args.index].panelClip) chart.ctx.restore();
  },
};

const labelGroups: [Label[], string, string, number][] = [
  [streetLabels, COLORS.labelStreet, '19.5px "Liberation Sans"', 1.5],
  [blueLabels, COLORS.labelBlue, '18.5px "Liberation Sans"', 1.5],
  [redLabels, COLORS.labelRed, '18.5px "Liberation Sans"', 1.5],
  [greenLabels, COLORS.labelGreen, '18.5px "Liberation Sans"', 1.5],
  [panelLetters, "#000000", 'bold 40px "Liberation Sans"', 3],
];

const labelPlugin = {
  id: "mapLabels",
  afterDatasetsDraw(chart: any) {
    const { x, y } = chart.scales;
    const ctx = chart.ctx;
    ctx.save();
    ctx.textAlign = "center";
    ctx.textBaseline = "middle";
    labelGroups.forEach(([list, color, font, drop]) => {
      ctx.fillStyle = color;
      ctx.font = font;
      list.forEach(([text, lx, ly, rot]) => {
        ctx.save();
        ctx.translate(x.getPixelForValue(lx), y.getPixelForValue(ly));
        if (rot) ctx.rotate((rot * Math.PI) / 180);
        ctx.fillText(text, 0, drop);
        ctx.restore();
      });
    });
    ctx.restore();
  },
};

export default function App() {
  const ref = useRef<HTMLCanvasElement>(null);
  useEffect(() => {
    if (!ref.current) return;
    const chart = new Chart(ref.current, {
      type: "scatter",
      data: { datasets: buildDatasets() },
      options: {
        animation: false,
        responsive: false,
        devicePixelRatio: 1,
        layout: { padding: 0, autoPadding: false },
        events: [],
        scales: {
          x: { type: "linear", min: 0, max: X_MAX, display: false },
          y: { type: "linear", min: 0, max: Y_MAX, reverse: true, display: false },
        },
        plugins: { legend: { display: false }, title: { display: false }, tooltip: { enabled: false } },
      },
      plugins: [panelClipPlugin, labelPlugin],
    } as any);
    return () => chart.destroy();
  }, []);
  return (
    <canvas
      ref={ref}
      width={CANVAS_W}
      height={CANVAS_H}
      style={{ position: "absolute", left: 0, top: 0, display: "block", background: "#ffffff" }}
    />
  );
}
